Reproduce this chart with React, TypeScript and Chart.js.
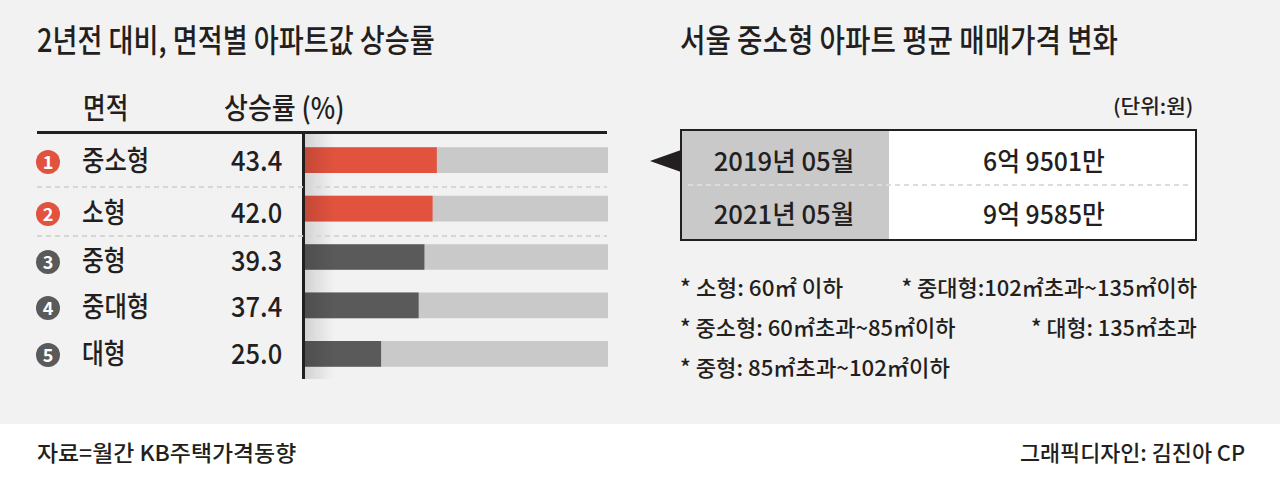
import React, { useEffect, useLayoutEffect, useRef, useState } from "react";
import { Chart, registerables } from "chart.js";

Chart.register(...registerables);

// ---------- data ----------
const leftTitle = "2년전 대비, 면적별 아파트값 상승률";
const rightTitle = "서울 중소형 아파트 평균 매매가격 변화";
const headerArea = "면적";
const headerRate = "상승률 (%)";
const areaTypes = ["중소형", "소형", "중형", "중대형", "대형"];
const riseRates = [43.4, 42.0, 39.3, 37.4, 25.0];
const trackFull = [100, 100, 100, 100, 100];
const unitLabel = "(단위:원)";
const periods = ["2019년 05월", "2021년 05월"];
const avgPrices = ["6억 9501만", "9억 9585만"];
const notes = [
  "* 소형:  60㎡ 이하",
  "* 중대형:102㎡초과~135㎡이하",
  "* 중소형: 60㎡초과~85㎡이하",
  "* 대형: 135㎡초과",
  "* 중형: 85㎡초과~102㎡이하",
];
const sourceText = "자료=월간 KB주택가격동향";
const creditText = "그래픽디자인: 김진아 CP";

// ---------- style ----------
const INK = "#231f20";
const RED = "#e1533f";
const DARK = "#5a5a5a";
const TRACK = "#c9c9c9";
const BG = "#f3f2f2";
const FONT = "'Noto Sans CJK KR', 'Noto Sans', sans-serif";
const W = 1280;

type TP = {
  text: string;
  x: number;
  y: number;
  size: number;
  w?: number;
  sx?: number;
  align?: "left" | "right" | "center";
  color?: string;
  weight?: number;
};

function T({ text, x, y, size, w, sx, align = "left", color = INK, weight = 500 }: TP) {
  const ref = useRef<HTMLDivElement>(null);
  const [scale, setScale] = useState(sx ?? 1);
  useLayoutEffect(() => {
    if (w && ref.current) {
      const ow = ref.current.offsetWidth;
      if (ow) setScale(w / ow);
    }
  }, [text, w, size]);
  const style: React.CSSProperties = {
    position: "absolute",
    top: y - size * 0.56,
    fontFamily: FONT,
    fontSize: size,
    lineHeight: `${size}px`,
    fontWeight: weight,
    color,
    whiteSpace: "nowrap",
    letterSpacing: 0,
  };
  if (align === "left") {
    style.left = x;
    style.transformOrigin = "left center";
    style.transform = `scaleX(${scale})`;
  } else if (align === "right") {
    style.right = W - x;
    style.transformOrigin = "right center";
    style.transform = `scaleX(${scale})`;
  } else {
    style.left = x;
    style.transformOrigin = "center center";
    style.transform = `translateX(-50%) scaleX(${scale})`;
  }
  return (
    <div ref={ref} style={style}>
      {text}
    </div>
  );
}

function Dashes({ x, y, w, color }: { x: number; y: number; w: number; color: string }) {
  return (
    <div
      style={{
        position: "absolute",
        left: x,
        top: y,
        width: w,
        height: 2,
        backgroundImage: `repeating-linear-gradient(to right, ${color} 0 5px, transparent 5px 9px)`,
      }}
    />
  );
}

const rowTextY = [161, 213, 260.5, 307, 354];

export default function App() {
  const canvasRef = useRef<HTMLCanvasElement>(null);

  useEffect(() => {
    document.body.style.margin = "0";
    const chart = new Chart(canvasRef.current!, {
      type: "bar",
      data: {
        labels: areaTypes,
        datasets: [
          {
            label: "상승률",
            data: riseRates,
            backgroundColor: (c: any) => (c.dataIndex < 2 ? RED : DARK),
            borderWidth: 0,
            grouped: false,
            order: 0,
            barThickness: 25,
          } as any,
          {
            label: "전체",
            data: trackFull,
            backgroundColor: TRACK,
            borderWidth: 0,
            grouped: false,
            order: 1,
            barThickness: 25,
          } as any,
        ],
      },
      options: {
        indexAxis: "y",
        animation: false,
        responsive: true,
        maintainAspectRatio: false,
        layout: { padding: 0 },
        plugins: { legend: { display: false }, tooltip: { enabled: false } },
        scales: {
          x: { type: "linear", min: 0, max: 100, display: false },
          y: { display: false },
        },
      },
    });
    return () => chart.destroy();
  }, []);

  return (
    <div style={{ position: "relative", width: W, height: 480, background: "#ffffff", overflow: "hidden" }}>
      <div style={{ position: "absolute", left: 0, top: 0, width: W, height: 424, background: BG }} />

      {/* titles */}
      <T text={leftTitle} x={37} y={40} size={32} w={398} />
      <T text={rightTitle} x={680} y={40} size={32} w={438} />

      {/* left table header */}
      <T text={headerArea} x={83} y={108.5} size={29} w={45} />
      <T text={headerRate} x={224} y={108.5} size={29} w={120} />
      <div style={{ position: "absolute", left: 37, top: 131, width: 570, height: 3, background: INK }} />

      {/* bars */}
      <div style={{ position: "absolute", left: 305, top: 136, width: 303, height: 242 }}>
        <canvas ref={canvasRef} />
      </div>
      <div
        style={{
          position: "absolute",
          left: 304,
          top: 134,
          width: 30,
          height: 245,
          background: "linear-gradient(to right, rgba(0,0,0,0.13), rgba(0,0,0,0))",
        }}
      />
      <div style={{ position: "absolute", left: 302, top: 132, width: 2.5, height: 247, background: INK }} />
      <Dashes x={37} y={186} w={570} color="#d6d6d6" />
      <Dashes x={37} y={235} w={570} color="#d6d6d6" />

      {/* rows */}
      {areaTypes.map((name, i) => (
        <React.Fragment key={name}>
          <div
            style={{
              position: "absolute",
              left: 48 - 12,
              top: rowTextY[i] + 1 - 12,
              width: 24,
              height: 24,
              borderRadius: "50%",
              background: i < 2 ? RED : DARK,
            }}
          />
          <T text={String(i + 1)} x={48} y={rowTextY[i] + 1.5} size={18} align="center" color="#ffffff" weight={700} />
          <T text={name} x={82} y={rowTextY[i]} size={28} w={name.length === 3 ? 67 : 44} />
          <T text={riseRates[i].toFixed(1)} x={282} y={rowTextY[i]} size={28} w={51} align="right" />
        </React.Fragment>
      ))}

      {/* right table */}
      <T text={unitLabel} x={1193} y={107} size={20} w={80} align="right" />
      <div
        style={{
          position: "absolute",
          left: 650,
          top: 150,
          width: 0,
          height: 0,
          borderTop: "11px solid transparent",
          borderBottom: "11px solid transparent",
          borderRight: `31px solid ${INK}`,
        }}
      />
      <div
        style={{
          position: "absolute",
          left: 680,
          top: 129,
          width: 517,
          height: 112,
          boxSizing: "border-box",
          border: `2px solid ${INK}`,
          background: "#ffffff",
        }}
      >
        <div style={{ position: "absolute", left: 0, top: 0, width: 207, height: "100%", background: TRACK }} />
      </div>
      <Dashes x={688} y={184} w={504} color="#dcdcdc" />
      {periods.map((p, i) => (
        <React.Fragment key={p}>
          <T text={p} x={784} y={i === 0 ? 162 : 215} size={26} w={141} align="center" />
          <T text={avgPrices[i]} x={1044} y={i === 0 ? 162 : 215} size={26} w={122} align="center" />
        </React.Fragment>
      ))}

      {/* footnotes */}
      <T text={notes[0]} x={680} y={287} size={22} w={163} />
      <T text={notes[1]} x={1197} y={287} size={22} w={296} align="right" />
      <T text={notes[2]} x={680} y={327} size={22} w={276} />
      <T text={notes[3]} x={1197} y={327} size={22} w={166} align="right" />
      <T text={notes[4]} x={680} y={367} size={22} w={270} />

      {/* footer */}
      <T text={sourceText} x={37} y={452} size={22} w={259} />
      <T text={creditText} x={1245} y={452} size={22} w={225} align="right" />
    </div>
  );
}
